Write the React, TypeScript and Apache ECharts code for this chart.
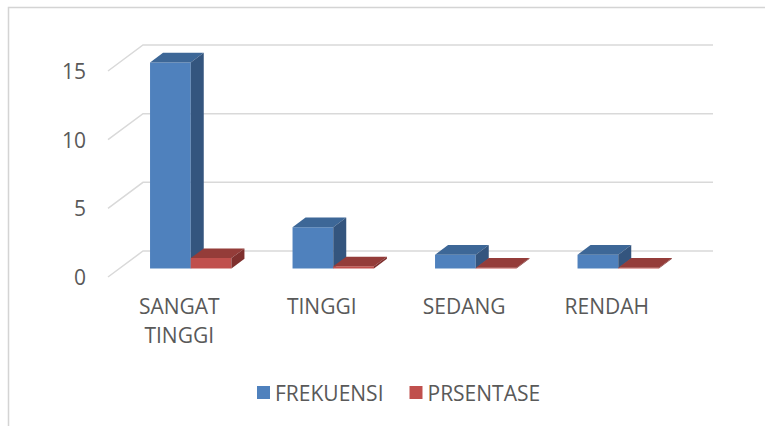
import React, { useEffect, useRef } from "react";
import * as echarts from "echarts";

const categories = ["SANGAT\nTINGGI", "TINGGI", "SEDANG", "RENDAH"];
const frekuensi = [15, 3, 1, 1];
const prsentase = [0.75, 0.15, 0.05, 0.05];
const yTicks = [0, 5, 10, 15];
const seriesNames = ["FREKUENSI", "PRSENTASE"];

const FONT = "'Open Sans', 'Liberation Sans', sans-serif";
const TXT = "#595959";

// 3D geometry (pixels)
const WALL_DX = 35;
const WALL_DY = -26;
const FRONT_DX = 11.5;
const FRONT_DY = -8.6;
const DEPTH_DX = 13;
const DEPTH_DY = -9.6;

const palettes = [
  { front: "#4f81bd", top: "#3d6797", side: "#34557e" },
  { front: "#c0504d", top: "#943c39", side: "#7f302e" },
];

function makeBarRender(s: number) {
  return (params: any, api: any) => {
    const i = api.value(0);
    const v = api.value(1);
    const base = api.coord([i, 0]);
    const top = api.coord([i, v]);
    const bw = api.size([1, 0])[0];
    const bandStart = base[0] - bw / 2;
    const w = bw / 3.5;
    const x0 = bandStart + w * (0.75 + s) + FRONT_DX;
    const x1 = x0 + w;
    const yB = base[1] + FRONT_DY;
    const yT = top[1] + FRONT_DY;
    const p = palettes[s];
    return {
      type: "group",
      children: [
        {
          type: "rect",
          shape: { x: x0, y: yT, width: x1 - x0, height: yB - yT },
          style: { fill: p.front },
        },
        {
          type: "polygon",
          shape: {
            points: [
              [x0, yT],
              [x1, yT],
              [x1 + DEPTH_DX, yT + DEPTH_DY],
              [x0 + DEPTH_DX, yT + DEPTH_DY],
            ],
          },
          style: { fill: p.top },
        },
        {
          type: "polygon",
          shape: {
            points: [
              [x1, yT],
              [x1 + DEPTH_DX, yT + DEPTH_DY],
              [x1 + DEPTH_DX, yB + DEPTH_DY],
              [x1, yB],
            ],
          },
          style: { fill: p.side },
        },
      ],
    };
  };
}

function wallRender(params: any, api: any) {
  const v = api.value(1);
  const c = api.coord([0, v]);
  const bw = api.size([1, 0])[0];
  const gx0 = c[0] - bw / 2;
  const gx1 = gx0 + bw * categories.length;
  const y = c[1];
  return {
    type: "polyline",
    shape: {
      points: [
        [gx0, y],
        [gx0 + WALL_DX, y + WALL_DY],
        [gx1 + WALL_DX, y + WALL_DY],
      ],
    },
    style: { stroke: "#d9d9d9", lineWidth: 1.5, fill: null },
    silent: true,
  };
}

export default function App() {
  const ref = useRef<HTMLDivElement>(null);
  useEffect(() => {
    if (!ref.current) return;
    const chart = echarts.init(ref.current, undefined, { renderer: "svg" });
    chart.setOption({
      animation: false,
      backgroundColor: "#ffffff",
      textStyle: { fontFamily: FONT },
      graphic: [
        {
          type: "rect",
          shape: { x: 8.5, y: 7.5, width: 800, height: 500 },
          style: { fill: null, stroke: "#d4d4d4", lineWidth: 1.5 },
          silent: true,
          z: -10,
        },
      ],
      grid: { left: 108, right: 87, top: 71, bottom: 149 },
      legend: {
        data: seriesNames.map((n) => ({ name: n, icon: "rect" })),
        left: 257,
        top: 382,
        padding: 0,
        itemWidth: 13,
        itemHeight: 13,
        itemGap: 26,
        textStyle: { fontSize: 21, color: TXT, fontFamily: FONT },
      },
      xAxis: {
        type: "category",
        data: categories,
        axisLine: { show: false },
        axisTick: { show: false },
        splitLine: { show: false },
        axisLabel: {
          interval: 0,
          margin: 14,
          fontSize: 21,
          lineHeight: 29,
          color: TXT,
          fontFamily: FONT,
          verticalAlign: "top",
        },
      },
      yAxis: {
        type: "value",
        min: 0,
        max: 15,
        interval: 5,
        axisLine: { show: false },
        axisTick: { show: false },
        splitLine: { show: false },
        axisLabel: { margin: 22, fontSize: 21, color: TXT, fontFamily: FONT },
      },
      series: [
        {
          type: "custom",
          name: "wall",
          silent: true,
          clip: false,
          z: 1,
          renderItem: wallRender,
          data: yTicks.map((t) => [0, t]),
        },
        {
          type: "custom",
          name: seriesNames[0],
          clip: false,
          z: 2,
          itemStyle: { color: palettes[0].front },
          renderItem: makeBarRender(0),
          data: frekuensi.map((v, i) => [i, v]),
        },
        {
          type: "custom",
          name: seriesNames[1],
          clip: false,
          z: 3,
          itemStyle: { color: palettes[1].front },
          renderItem: makeBarRender(1),
          data: prsentase.map((v, i) => [i, v]),
        },
      ],
    });
    return () => chart.dispose();
  }, []);
  return (
    <div
      ref={ref}
      style={{ position: "absolute", left: 0, top: 0, width: 765, height: 426 }}
    />
  );
}
